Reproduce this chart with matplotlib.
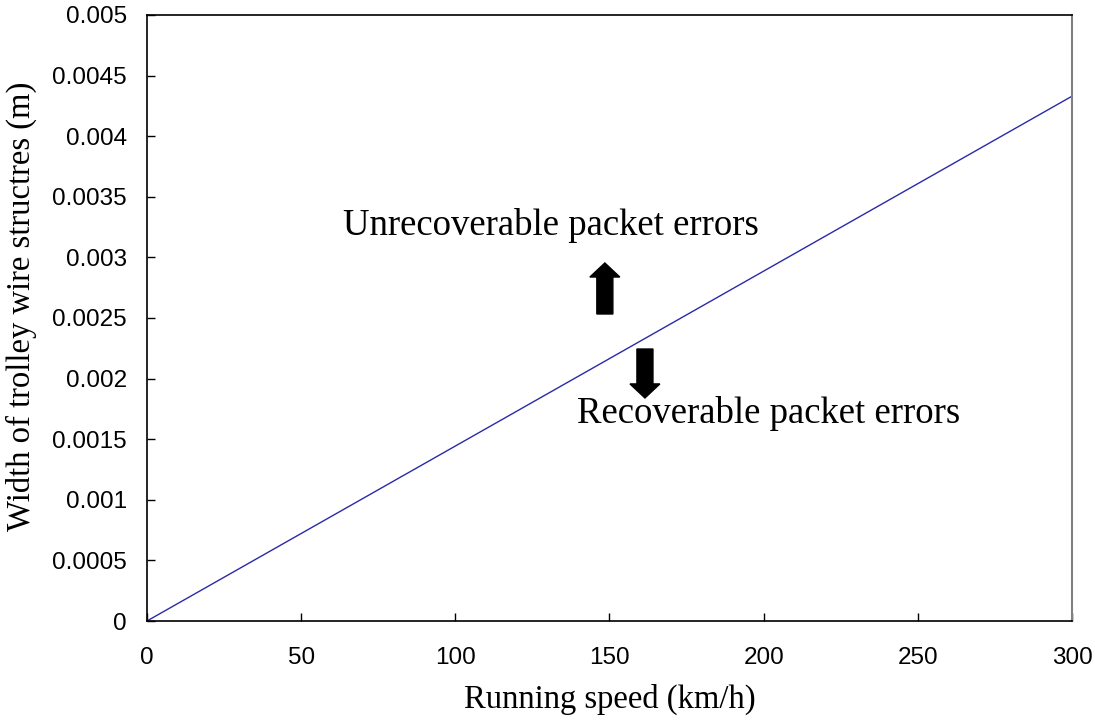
import matplotlib.pyplot as plt
from matplotlib.patches import FancyArrow

# data
speed = [0, 300]
width = [0, 0.00433]
xticks = [0, 50, 100, 150, 200, 250, 300]
yticks = [0, 0.0005, 0.001, 0.0015, 0.002, 0.0025, 0.003, 0.0035, 0.004, 0.0045, 0.005]
ytick_labels = ['0', '0.0005', '0.001', '0.0015', '0.002', '0.0025', '0.003',
                '0.0035', '0.004', '0.0045', '0.005']

serif = 'Liberation Serif'
sans = 'Liberation Sans'

fig = plt.figure(figsize=(10.95, 7.2), dpi=100, facecolor='white')
ax = fig.add_axes([0.1342, 0.1375, 0.8448, 0.8417])

ax.plot(speed, width, color='#2a2aa8', linewidth=1.0)

ax.set_xlim(0, 300)
ax.set_ylim(0, 0.005)
ax.set_xticks(xticks)
ax.set_yticks(yticks)
ax.set_yticklabels(ytick_labels)
ax.tick_params(direction='in', length=6, width=1, labelsize=17.5)
ax.tick_params(axis='x', pad=19)
ax.tick_params(axis='y', pad=14.5)
for lbl in ax.get_xticklabels() + ax.get_yticklabels():
    lbl.set_fontfamily(sans)
for side in ['left', 'bottom', 'top']:
    ax.spines[side].set_linewidth(1.2)
ax.spines['right'].set_color('#808080')
ax.spines['right'].set_linewidth(1.5)

ax.set_xlabel('Running speed (km/h)', fontfamily=serif, fontsize=23.5, labelpad=10)
ax.set_ylabel('Width of trolley wire structres (m)', fontfamily=serif, fontsize=23.5,
              labelpad=11)
ax.yaxis.label.set_y(0.52)

# region labels and arrows
ax.text(63.6, 0.003185, 'Unrecoverable packet errors', fontfamily=serif, fontsize=26.5,
        ha='left', va='baseline')
ax.text(139.5, 0.001634, 'Recoverable packet errors', fontfamily=serif, fontsize=26.5,
        ha='left', va='baseline')

ax.add_patch(FancyArrow(148.5, 0.002533, 0, 0.000421, width=5.2, head_width=9.7,
                        head_length=0.000116, length_includes_head=True,
                        color='black'))
ax.add_patch(FancyArrow(161.5, 0.002244, 0, -0.000404, width=5.2, head_width=9.7,
                        head_length=0.000116, length_includes_head=True,
                        color='black'))

plt.savefig('out.png', dpi=100, facecolor='white')
